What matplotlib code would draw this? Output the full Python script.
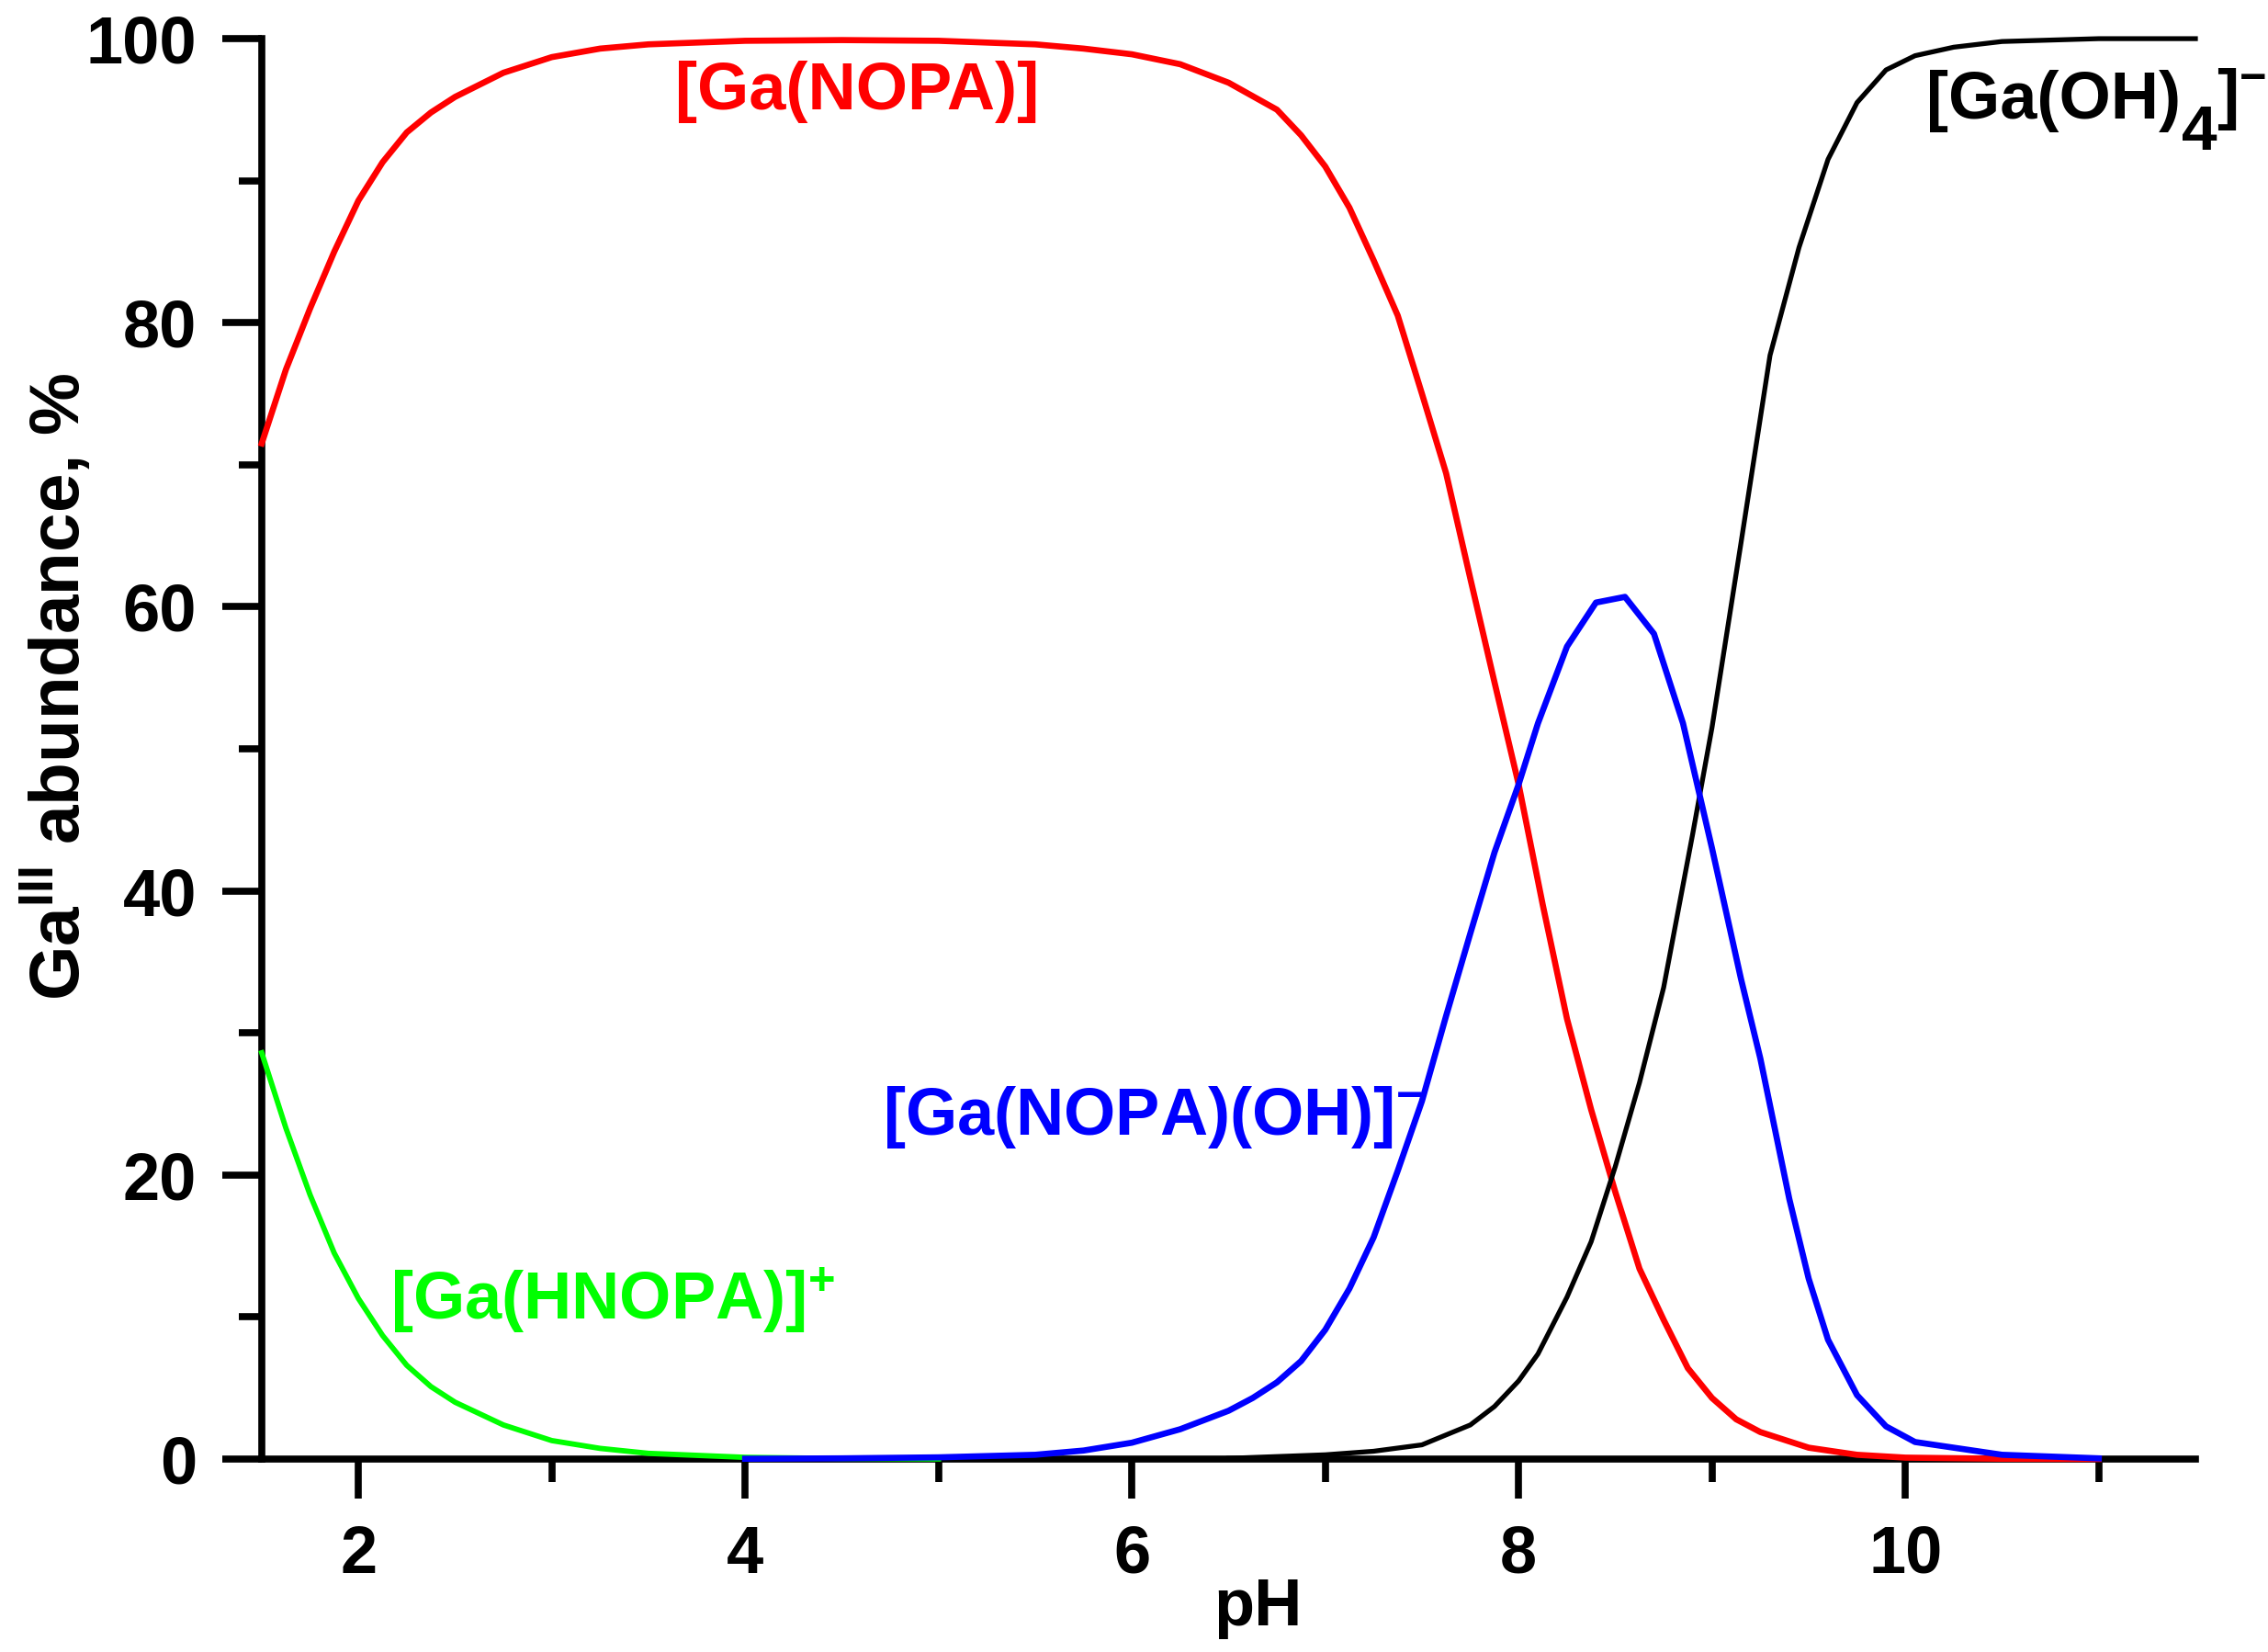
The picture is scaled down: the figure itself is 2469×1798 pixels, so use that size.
import matplotlib
matplotlib.use("Agg")
import matplotlib.pyplot as plt
from matplotlib.ticker import MultipleLocator

# ---- data (pH vs % Ga) ----
ph_hnopa = [1.5, 1.625, 1.75, 1.875, 2.0, 2.125, 2.25, 2.375, 2.5, 2.75, 3.0, 3.25, 3.5,
            4.0, 4.5, 5.0]
hnopa = [28.6, 23.3, 18.6, 14.5, 11.3, 8.7, 6.6, 5.1, 4.0, 2.4, 1.3, 0.75, 0.4,
         0.12, 0.04, 0.01]

ph_nopa = [1.5, 1.625, 1.75, 1.875, 2.0, 2.125, 2.25, 2.375, 2.5, 2.75, 3.0, 3.25, 3.5,
           4.0, 4.5, 5.0, 5.5, 5.75, 6.0, 6.25, 6.5, 6.75, 6.875, 7.0, 7.125, 7.25,
           7.375, 7.5, 7.625, 7.75, 7.875, 8.0, 8.125, 8.25, 8.375, 8.5, 8.625, 8.75,
           8.875, 9.0, 9.125, 9.25, 9.5, 9.75, 10.0, 10.5, 11.0]
nopa = [71.5, 76.7, 81.0, 85.0, 88.6, 91.3, 93.4, 94.8, 95.9, 97.6, 98.7, 99.3, 99.6,
        99.85, 99.9, 99.85, 99.6, 99.3, 98.9, 98.2, 96.9, 95.0, 93.2, 91.0, 88.1, 84.4,
        80.5, 75.0, 69.4, 62.0, 54.7, 47.5, 39.0, 31.0, 24.6, 18.8, 13.4, 9.8,
        6.4, 4.3, 2.8, 1.9, 0.8, 0.3, 0.1, 0.02, 0.0]

ph_oh = [4.0, 4.5, 5.0, 5.5, 5.75, 6.0, 6.25, 6.5, 6.625, 6.75, 6.875, 7.0, 7.125, 7.25,
         7.375, 7.5, 7.625, 7.75, 7.875, 8.0, 8.1, 8.25, 8.4, 8.55, 8.7, 8.85, 9.0, 9.15,
         9.25, 9.4, 9.5, 9.6, 9.75, 9.9, 10.05, 10.25, 10.5, 11.0]
nopa_oh = [0.02, 0.05, 0.12, 0.3, 0.6, 1.15, 2.1, 3.4, 4.3, 5.4, 6.9, 9.1, 12.0, 15.6,
           20.3, 25.2, 31.2, 37.0, 42.7, 47.5, 51.8, 57.2, 60.3, 60.7, 58.1, 51.8, 43.0, 33.8,
           28.2, 18.3, 12.7, 8.4, 4.5, 2.3, 1.2, 0.8, 0.3, 0.05]

ph_ga = [6.5, 7.0, 7.25, 7.5, 7.75, 7.875, 8.0, 8.1, 8.25, 8.375, 8.5, 8.625, 8.75, 8.9,
         9.0, 9.15, 9.3, 9.45, 9.6, 9.75, 9.9, 10.05, 10.25, 10.5, 11.0, 11.5]
ga_oh4 = [0.05, 0.3, 0.55, 1.0, 2.4, 3.7, 5.5, 7.4, 11.4, 15.3, 20.6, 26.5, 33.2, 44.0,
          51.5, 64.5, 77.7, 85.3, 91.5, 95.5, 97.8, 98.8, 99.4, 99.8, 100.0, 100.0]

xticks_major = [2, 4, 6, 8, 10]

plt.rcParams['font.family'] = ['Liberation Sans', 'DejaVu Sans']
plt.rcParams['font.weight'] = 'bold'
plt.rcParams['mathtext.fontset'] = 'custom'
plt.rcParams['mathtext.rm'] = 'Liberation Sans:bold'
plt.rcParams['mathtext.bf'] = 'Liberation Sans:bold'
plt.rcParams['mathtext.default'] = 'rm'

fig = plt.figure(figsize=(24.69, 17.98), dpi=100)
ax = fig.add_axes([0.1154, 0.1168, 0.8526, 0.8598])

ax.plot(ph_hnopa, hnopa, color='#00ff00', lw=4.2, clip_on=False, zorder=3)
ax.plot(ph_nopa, nopa, color='#ff0000', lw=4.8, clip_on=False, zorder=4)
ax.plot(ph_ga, ga_oh4, color='black', lw=3.8, clip_on=False, zorder=5)
ax.plot(ph_oh, nopa_oh, color='#0000ff', lw=4.8, clip_on=False, zorder=6)

ax.set_xlim(1.5, 11.5)
ax.set_ylim(0, 100)

for s in ['top', 'right']:
    ax.spines[s].set_visible(False)
for s in ['left', 'bottom']:
    ax.spines[s].set_linewidth(5.5)

ax.set_xticks(xticks_major)
ax.xaxis.set_minor_locator(MultipleLocator(1))
ax.yaxis.set_major_locator(MultipleLocator(20))
ax.yaxis.set_minor_locator(MultipleLocator(10))
ax.tick_params(which='major', direction='out', length=31, width=5.5, labelsize=52, pad=20)
ax.tick_params(which='minor', direction='out', length=18, width=5.5)
for lab in ax.get_xticklabels() + ax.get_yticklabels():
    lab.set_fontweight('bold')

ax.set_xlabel('pH', fontsize=52, fontweight='bold')
ax.xaxis.set_label_coords(0.515, -0.105)
ax.xaxis.label.set_va('center')
ax.set_ylabel('Ga$^{III}$ abundance, %', fontsize=55, fontweight='bold')
ax.yaxis.set_label_coords(-0.106, 0.544)
ax.yaxis.label.set_va('center')

# species labels
fs = 52
ax.text(3.64, 95.0, '[Ga(NOPA)]', color='#ff0000', fontsize=fs, fontweight='bold',
        ha='left', va='baseline')
ax.text(4.71, 22.85, '[Ga(NOPA)(OH)]$^{-}$', color='#0000ff', fontsize=fs, fontweight='bold',
        ha='left', va='baseline')
ax.text(2.165, 9.8, '[Ga(HNOPA)]$^{+}$', color='#00ff00', fontsize=fs, fontweight='bold',
        ha='left', va='baseline')

# [Ga(OH)4]- with a full size, lowered subscript as in the original
t1 = ax.text(10.11, 94.4, '[Ga(OH)', color='black', fontsize=fs, fontweight='bold',
             ha='left', va='baseline')
t2 = ax.annotate('4', xy=(1, 0), xycoords=t1, xytext=(0, -24), textcoords='offset points',
                 color='black', fontsize=50, fontweight='bold', ha='left', va='bottom')
ax.annotate(']$^{-}$', xy=(1, 0), xycoords=(t2, t1), color='black', fontsize=fs,
            fontweight='bold', ha='left', va='bottom')

fig.savefig('out.png', dpi=100, facecolor='white')
